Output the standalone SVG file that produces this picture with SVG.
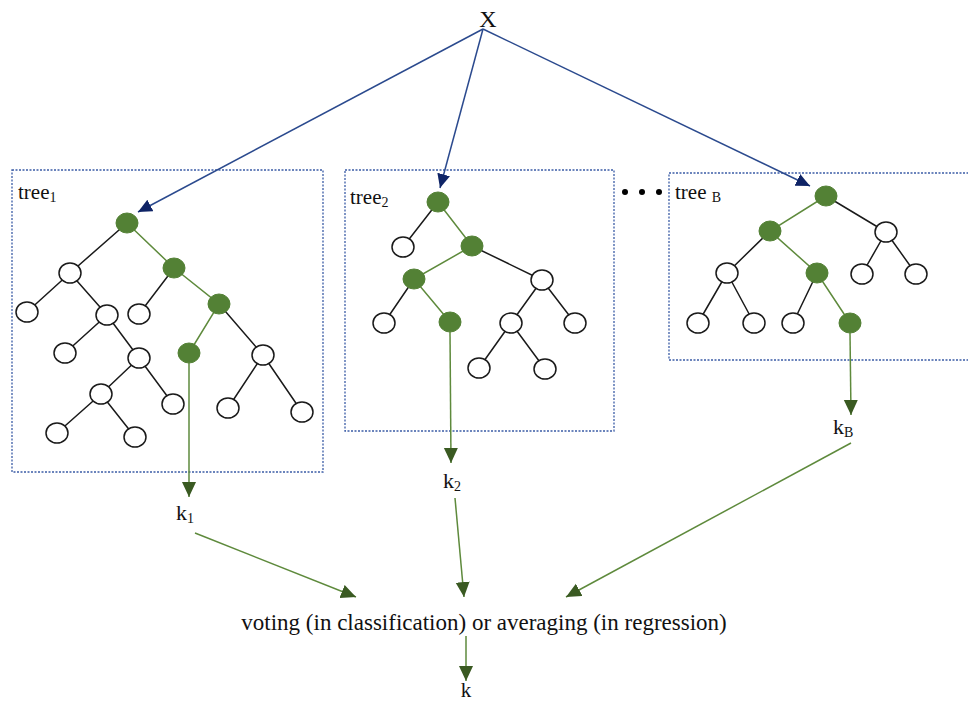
<svg xmlns="http://www.w3.org/2000/svg" width="968" height="704" viewBox="0 0 968 704">
<style>
.box{fill:none;stroke:#3b5ca6;stroke-width:1.3;stroke-dasharray:2 1.5}
.e{stroke:#1a1a1a;stroke-width:1.5;fill:none}
.g{stroke:#5e8a3c;stroke-width:1.5;fill:none}
.w{fill:#fff;stroke:#1a1a1a;stroke-width:1.5}
.n{fill:#538135;stroke:#538135;stroke-width:1}
.b{stroke:#2b4a8e;stroke-width:1.5;fill:none}
.t{font-family:"Liberation Serif","Times New Roman",serif;fill:#111}
</style>
<defs>
<marker id="ab" markerUnits="userSpaceOnUse" markerWidth="16" markerHeight="14" refX="14" refY="6.5" orient="auto"><path d="M0,0 L14,6.5 L0,13 z" fill="#0f2466"/></marker>
<marker id="ag" markerUnits="userSpaceOnUse" markerWidth="16" markerHeight="15" refX="15" refY="7" orient="auto"><path d="M0,0 L15,7 L0,14 z" fill="#3a5a22"/></marker>
</defs>

<g id="input">
<text class="t" x="488" y="27" font-size="24" text-anchor="middle">X</text>
</g>

<g id="tree1">
<rect class="box" x="12" y="170" width="311" height="302"/>
<text class="t" x="18" y="199" font-size="21">tree<tspan font-size="14" dy="3">1</tspan></text>
<path class="e" d="M127,223 L70,273 M70,273 L27,312 M70,273 L107,315 M174,268 L139,314 M107,315 L65,353 M107,315 L139,358 M219,304 L263,355 M139,358 L101,394 M139,358 L173,404 M263,355 L228,408 M263,355 L302,412 M101,394 L57,433 M101,394 L135,437"/>
<path class="g" d="M127,223 L174,268 L219,304 L189,353"/>
<ellipse class="n" cx="127" cy="223" rx="11" ry="10"/>
<ellipse class="w" cx="70" cy="273" rx="11" ry="10"/>
<ellipse class="n" cx="174" cy="268" rx="11" ry="10"/>
<ellipse class="w" cx="27" cy="312" rx="11" ry="10"/>
<ellipse class="w" cx="107" cy="315" rx="11" ry="10"/>
<ellipse class="w" cx="139" cy="314" rx="11" ry="10"/>
<ellipse class="n" cx="219" cy="304" rx="11" ry="10"/>
<ellipse class="w" cx="65" cy="353" rx="11" ry="10"/>
<ellipse class="w" cx="139" cy="358" rx="11" ry="10"/>
<ellipse class="n" cx="189" cy="353" rx="11" ry="10"/>
<ellipse class="w" cx="263" cy="355" rx="11" ry="10"/>
<ellipse class="w" cx="101" cy="394" rx="11" ry="10"/>
<ellipse class="w" cx="173" cy="404" rx="11" ry="10"/>
<ellipse class="w" cx="228" cy="408" rx="11" ry="10"/>
<ellipse class="w" cx="302" cy="412" rx="11" ry="10"/>
<ellipse class="w" cx="57" cy="433" rx="11" ry="10"/>
<ellipse class="w" cx="135" cy="437" rx="11" ry="10"/>
</g>

<g id="tree2">
<rect class="box" x="345" y="170" width="269" height="261"/>
<text class="t" x="350" y="204" font-size="21">tree<tspan font-size="14" dy="3">2</tspan></text>
<path class="e" d="M438,202 L403,247 M472,246 L542,280 M414,279 L384,323 M542,280 L511,323 M542,280 L575,323 M511,323 L479,368 M511,323 L545,369"/>
<path class="g" d="M438,202 L472,246 L414,279 L450,322"/>
<ellipse class="n" cx="438" cy="202" rx="11" ry="10"/>
<ellipse class="w" cx="403" cy="247" rx="11" ry="10"/>
<ellipse class="n" cx="472" cy="246" rx="11" ry="10"/>
<ellipse class="n" cx="414" cy="279" rx="11" ry="10"/>
<ellipse class="w" cx="542" cy="280" rx="11" ry="10"/>
<ellipse class="w" cx="384" cy="323" rx="11" ry="10"/>
<ellipse class="n" cx="450" cy="322" rx="11" ry="10"/>
<ellipse class="w" cx="511" cy="323" rx="11" ry="10"/>
<ellipse class="w" cx="575" cy="323" rx="11" ry="10"/>
<ellipse class="w" cx="479" cy="368" rx="11" ry="10"/>
<ellipse class="w" cx="545" cy="369" rx="11" ry="10"/>
</g>

<g id="ellipsis">
<circle cx="625" cy="192" r="3" fill="#000"/>
<circle cx="642" cy="192" r="3" fill="#000"/>
<circle cx="659" cy="192" r="3" fill="#000"/>
</g>

<g id="treeB">
<rect class="box" x="669" y="173" width="310" height="187"/>
<text class="t" x="675" y="199" font-size="21">tree <tspan font-size="14" dy="3">B</tspan></text>
<path class="e" d="M826,196 L886,232 M770,231 L727,273 M886,232 L862,274 M886,232 L916,274 M727,273 L698,323 M727,273 L754,323 M817,273 L793,323"/>
<path class="g" d="M826,196 L770,231 L817,273 L850,323"/>
<ellipse class="n" cx="826" cy="196" rx="11" ry="10"/>
<ellipse class="n" cx="770" cy="231" rx="11" ry="10"/>
<ellipse class="w" cx="886" cy="232" rx="11" ry="10"/>
<ellipse class="w" cx="727" cy="273" rx="11" ry="10"/>
<ellipse class="n" cx="817" cy="273" rx="11" ry="10"/>
<ellipse class="w" cx="862" cy="274" rx="11" ry="10"/>
<ellipse class="w" cx="916" cy="274" rx="11" ry="10"/>
<ellipse class="w" cx="698" cy="323" rx="11" ry="10"/>
<ellipse class="w" cx="754" cy="323" rx="11" ry="10"/>
<ellipse class="w" cx="793" cy="323" rx="11" ry="10"/>
<ellipse class="n" cx="850" cy="323" rx="11" ry="10"/>
</g>

<g id="k1"><text class="t" x="176" y="520" font-size="22">k<tspan font-size="14" dy="3">1</tspan></text></g>
<g id="k2"><text class="t" x="443" y="488" font-size="22">k<tspan font-size="14" dy="3">2</tspan></text></g>
<g id="kB"><text class="t" x="833" y="434" font-size="22">k<tspan font-size="14" dy="3">B</tspan></text></g>
<g id="aggregate"><text class="t" x="484" y="630" font-size="23" text-anchor="middle">voting (in classification) or averaging (in regression)</text></g>
<g id="k"><text class="t" x="466" y="697" font-size="21" text-anchor="middle">k</text></g>

<g id="connectors">
<line class="b" x1="483" y1="29" x2="138" y2="212" marker-end="url(#ab)"/>
<line class="b" x1="483" y1="29" x2="440" y2="188" marker-end="url(#ab)"/>
<line class="b" x1="483" y1="29" x2="810" y2="186" marker-end="url(#ab)"/>
<line class="g" x1="189" y1="363" x2="189" y2="497" marker-end="url(#ag)"/>
<line class="g" x1="450" y1="332" x2="451" y2="463" marker-end="url(#ag)"/>
<line class="g" x1="850" y1="333" x2="851" y2="415" marker-end="url(#ag)"/>
<line class="g" x1="195" y1="533" x2="356" y2="597" marker-end="url(#ag)"/>
<line class="g" x1="455" y1="498" x2="464" y2="597" marker-end="url(#ag)"/>
<line class="g" x1="851" y1="443" x2="566" y2="597" marker-end="url(#ag)"/>
<line class="g" x1="466" y1="636" x2="466" y2="681" marker-end="url(#ag)"/>
</g>
</svg>
